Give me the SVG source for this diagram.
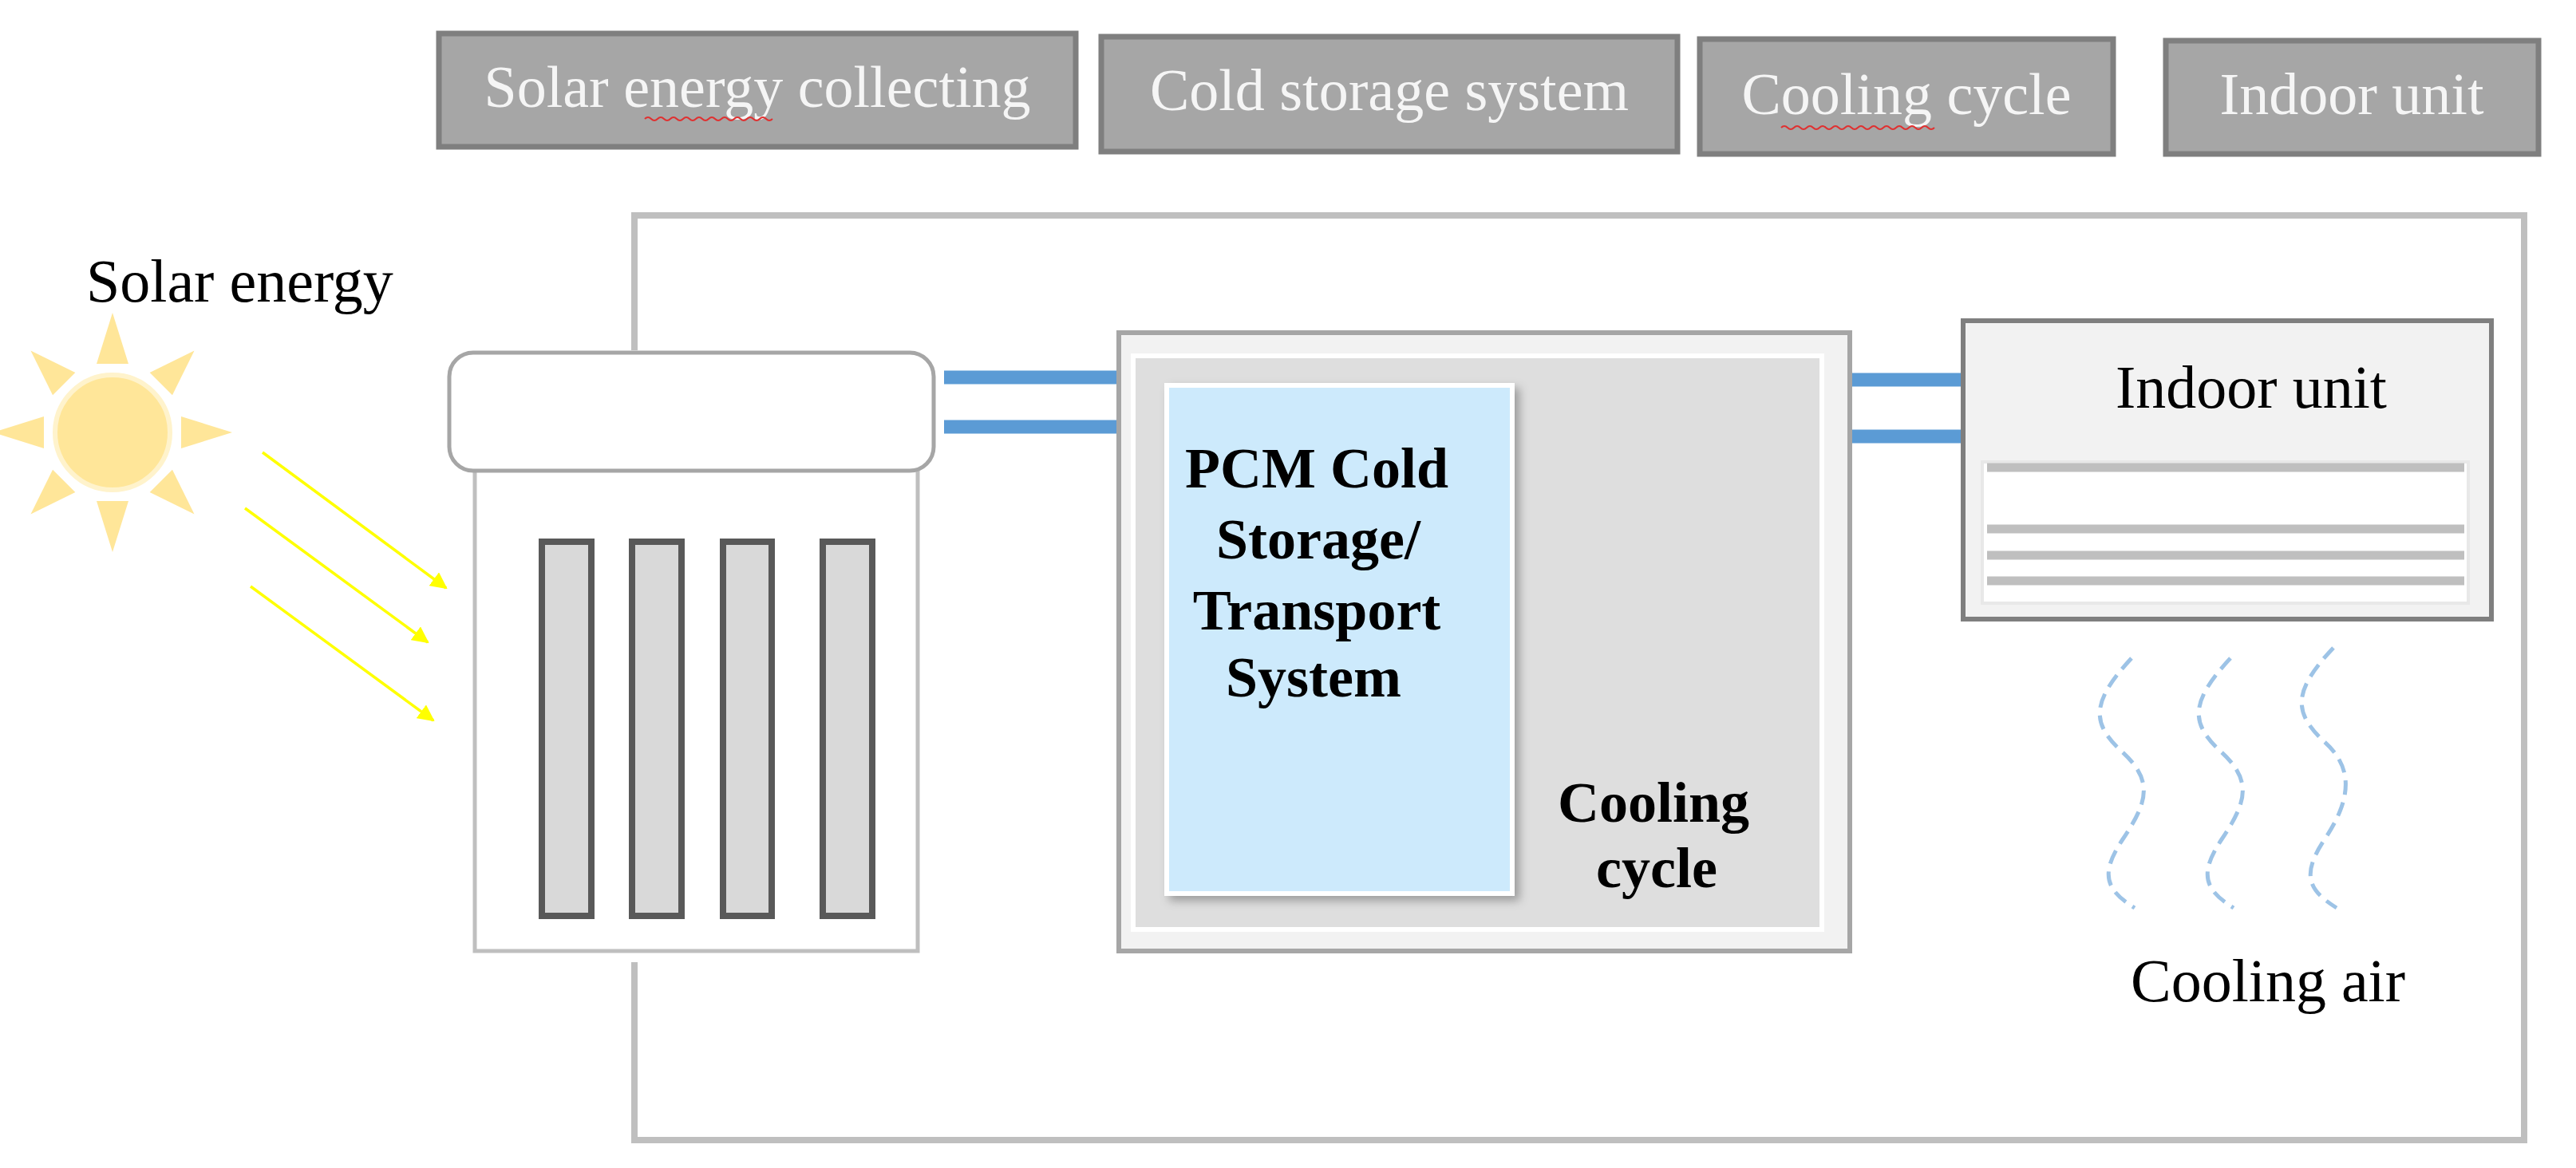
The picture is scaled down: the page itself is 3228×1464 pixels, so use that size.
<svg xmlns="http://www.w3.org/2000/svg" width="3228" height="1464" viewBox="0 0 3228 1464">
<defs>
<style>
.hdr{fill:#a6a6a6;stroke:#7f7f7f;stroke-width:7}
.ht{font-family:"Liberation Serif",serif;font-size:74px;fill:#f5f5f5;text-anchor:middle}
.t{font-family:"Liberation Serif",serif;font-size:76px;fill:#000}
.b{font-family:"Liberation Serif",serif;font-size:72px;font-weight:bold;fill:#000;text-anchor:middle}
.tube{fill:#d9d9d9;stroke:#595959;stroke-width:8}
.pipe{stroke:#5b9bd5;stroke-width:17}
.ray{stroke:#ffff00;stroke-width:3.5}
.wave{fill:none;stroke:#9dc3e6;stroke-width:5;stroke-dasharray:18 10}
.grl{stroke:#bfbfbf;stroke-width:11}
.sq{fill:none;stroke:#e03030;stroke-width:2}
</style>
<marker id="ya" viewBox="0 0 10 10" refX="9" refY="5" markerWidth="6" markerHeight="6" markerUnits="strokeWidth" orient="auto"><path d="M0,0L10,5L0,10z" fill="#ffff00"/></marker>
<filter id="sh" x="-10%" y="-10%" width="130%" height="130%"><feDropShadow dx="6" dy="6" stdDeviation="6" flood-color="#000" flood-opacity="0.3"/></filter>
</defs>
<rect width="3228" height="1464" fill="#fff"/>
<g id="hdr1"><rect class="hdr" x="550" y="42" width="798" height="142"/><text class="ht" x="949" y="134">Solar energy collecting</text><path class="sq" d="M808,149 q4,-4 8,0 t8,0 t8,0 t8,0 t8,0 t8,0 t8,0 t8,0 t8,0 t8,0 t8,0 t8,0 t8,0 t8,0 t8,0 t8,0 t8,0 t8,0 t8,0 t8,0"/></g>
<g id="hdr2"><rect class="hdr" x="1380" y="46" width="722" height="144"/><text class="ht" x="1741" y="138">Cold storage system</text></g>
<g id="hdr3"><rect class="hdr" x="2130" y="49" width="518" height="144"/><text class="ht" x="2389" y="143">Cooling cycle</text><path class="sq" d="M2232,160 q4,-4 8,0 t8,0 t8,0 t8,0 t8,0 t8,0 t8,0 t8,0 t8,0 t8,0 t8,0 t8,0 t8,0 t8,0 t8,0 t8,0 t8,0 t8,0 t8,0 t8,0 t8,0 t8,0 t8,0 t8,0"/></g>
<g id="hdr4"><rect class="hdr" x="2714" y="51" width="467" height="142"/><text class="ht" x="2947" y="143">Indoor  unit</text></g>
<g id="connectors">
<path d="M795,439 V270 H3163 V1429 H795 V1206" fill="none" stroke="#bfbfbf" stroke-width="8"/>
<line class="pipe" x1="1183" y1="473" x2="1402" y2="473"/>
<line class="pipe" x1="1183" y1="535" x2="1402" y2="535"/>
<line class="pipe" x1="2318" y1="476" x2="2460" y2="476"/>
<line class="pipe" x1="2318" y1="547" x2="2460" y2="547"/>
<line class="ray" x1="329" y1="567" x2="559" y2="737" marker-end="url(#ya)"/>
<line class="ray" x1="307" y1="637" x2="536" y2="805" marker-end="url(#ya)"/>
<line class="ray" x1="314" y1="735" x2="543" y2="903" marker-end="url(#ya)"/>
</g>
<g id="sun">
<text class="t" x="108" y="378" font-size="80">Solar energy</text>
<g fill="#ffe699" transform="translate(141,542)">
<circle r="72" stroke="#fff3cc" stroke-width="6"/>
<path d="M-20,-86 L0,-150 L20,-86z"/><path d="M-20,86 L0,150 L20,86z"/><path d="M-86,-20 L-150,0 L-86,20z"/><path d="M86,-20 L150,0 L86,20z"/>
<g transform="rotate(45)"><path d="M-20,-86 L0,-145 L20,-86z"/><path d="M-20,86 L0,145 L20,86z"/><path d="M-86,-20 L-145,0 L-86,20z"/><path d="M86,-20 L145,0 L86,20z"/></g>
</g>
</g>
<g id="collector">
<rect x="595" y="580" width="555" height="612" fill="#fff" stroke="#bfbfbf" stroke-width="5"/>
<rect x="563" y="442" width="607" height="148" rx="30" fill="#fff" stroke="#a6a6a6" stroke-width="5"/>
<rect class="tube" x="679" y="679" width="62" height="469"/>
<rect class="tube" x="792" y="679" width="62" height="469"/>
<rect class="tube" x="906" y="679" width="61" height="469"/>
<rect class="tube" x="1031" y="679" width="62" height="469"/>
</g>
<g id="coldstorage">
<rect x="1402" y="417" width="916" height="775" fill="#f2f2f2" stroke="#a6a6a6" stroke-width="6"/>
<rect x="1420" y="446" width="863" height="719" fill="#dedede" stroke="#fff" stroke-width="6"/>
<rect x="1462" y="483" width="433" height="637" fill="#cdeafc" stroke="#fff" stroke-width="6" filter="url(#sh)"/>
<text class="b" x="1650" y="611">PCM Cold</text>
<text class="b" x="1652" y="700">Storage/</text>
<text class="b" x="1650" y="789">Transport</text>
<text class="b" x="1646" y="873">System</text>
<text class="b" x="2072" y="1030">Cooling</text>
<text class="b" x="2076" y="1112">cycle</text>
</g>
<g id="indoor">
<rect x="2460" y="402" width="662" height="374" fill="#f2f2f2" stroke="#7f7f7f" stroke-width="6"/>
<text class="t" x="2821" y="511" text-anchor="middle">Indoor unit</text>
<rect x="2484" y="579" width="609" height="177" fill="#fff" stroke="#e8e8e8" stroke-width="4"/>
<line class="grl" x1="2490" y1="586" x2="3088" y2="586"/>
<line class="grl" x1="2490" y1="663" x2="3088" y2="663"/>
<line class="grl" x1="2490" y1="696" x2="3088" y2="696"/>
<line class="grl" x1="2490" y1="728" x2="3088" y2="728"/>
</g>
<g id="air">
<path class="wave" d="M2671,825 C2620,880 2620,907 2660,943 C2700,980 2690,1007 2660,1052 C2630,1097 2640,1116 2675,1138"/>
<path class="wave" d="M2795,825 C2744,880 2744,907 2784,943 C2824,980 2814,1007 2784,1052 C2754,1097 2764,1116 2799,1138"/>
<path class="wave" d="M2924,812 C2873,866 2873,893 2913,930 C2953,966 2943,1007 2913,1052 C2883,1097 2893,1116 2928,1138"/>
<text class="t" x="2842" y="1255" text-anchor="middle">Cooling air</text>
</g>
</svg>
